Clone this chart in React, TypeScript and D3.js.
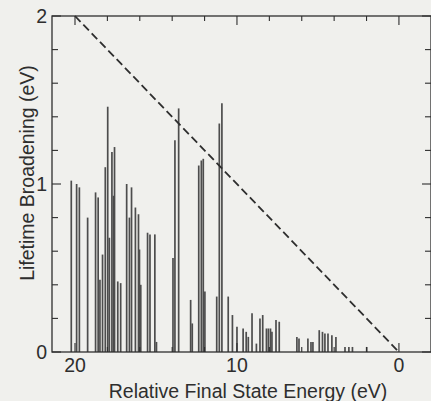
import { useEffect, useRef } from 'react';
import * as d3 from 'd3';

// stick positions (eV) and their lifetime broadening (eV)
const energies = [
  20.23, 19.9, 19.73, 19.22, 18.73, 18.57, 18.46, 18.3, 18.13, 17.98, 17.88, 17.72, 17.62, 17.56,
  17.36, 17.18, 16.81, 16.64, 16.51, 16.27, 16.08, 16.02, 15.94, 15.52, 15.37, 15.07, 14.97,
  13.95, 13.83, 13.6, 12.86, 12.76, 12.36, 12.2, 12.08, 11.98, 11.25, 11.09, 10.93, 10.54, 10.28,
  10.0, 9.62, 9.43, 9.3, 9.07, 8.8, 8.58, 8.41, 8.18, 8.06, 7.93, 7.84, 7.59, 7.39, 6.3, 6.17,
  5.62, 5.43, 5.31, 4.92, 4.72, 4.57, 4.38, 4.14, 3.89, 3.33, 3.09, 2.87, 1.99,
];
const broadening = [
  1.02, 1.0, 0.98, 0.8, 0.95, 0.92, 0.43, 0.58, 1.1, 1.46, 0.68, 1.19, 0.93, 1.22,
  0.42, 0.41, 1.0, 0.8, 0.98, 0.86, 0.82, 0.61, 0.4, 0.71, 0.7, 0.7, 0.06,
  0.56, 1.26, 1.45, 0.31, 0.17, 1.11, 1.14, 1.15, 0.36, 0.33, 1.36, 1.48, 0.33, 0.22,
  0.15, 0.14, 0.12, 0.09, 0.23, 0.05, 0.2, 0.22, 0.14, 0.14, 0.14, 0.12, 0.19, 0.18, 0.09, 0.08,
  0.08, 0.06, 0.06, 0.13, 0.12, 0.11, 0.11, 0.1, 0.09, 0.03, 0.03, 0.03, 0.03,
];
// dashed guide: from (20 eV, 2 eV) down to (0, 0)
const guideX = [20, 0];
const guideY = [2, 0];
const xTickLabels = [20, 10, 0];
const yTickLabels = [0, 1, 2];

const W = 431;
const H = 401;

export default function App() {
  const svgRef = useRef<SVGSVGElement>(null);

  useEffect(() => {
    const svg = d3.select(svgRef.current);
    svg.selectAll('*').remove();

    const left = 52, right = 431, top = 16, bottom = 352;
    const x = d3.scaleLinear().domain([21.42, -1.98]).range([left, right]);
    const y = d3.scaleLinear().domain([0, 2]).range([bottom, top]);
    const ink = '#2e2e2e';
    const font = 'Liberation Sans, Arial, Helvetica, sans-serif';
    const fs = 19.5;

    svg.append('rect').attr('width', W).attr('height', H).attr('fill', '#f0f0ed');

    // sticks
    svg.append('g').selectAll('line').data(energies).join('line')
      .attr('x1', d => x(d)).attr('x2', d => x(d))
      .attr('y1', bottom)
      .attr('y2', (d, i) => y(broadening[i]))
      .attr('stroke', '#4d4d4d')
      .attr('stroke-width', 1.7);

    // dashed guide line
    svg.append('line')
      .attr('x1', x(guideX[0])).attr('y1', y(guideY[0]))
      .attr('x2', x(guideX[1])).attr('y2', y(guideY[1]))
      .attr('stroke', ink)
      .attr('stroke-width', 1.8)
      .attr('stroke-dasharray', '8,4');

    // frame
    svg.append('rect')
      .attr('x', left).attr('y', top)
      .attr('width', right - left).attr('height', bottom - top)
      .attr('fill', 'none').attr('stroke', ink).attr('stroke-width', 1.3);

    // ticks, all pointing inward
    const ticks = svg.append('g').attr('stroke', ink).attr('stroke-width', 1.1);
    d3.range(0, 21, 2).forEach(v => {
      const len = v % 10 === 0 ? 9 : 5;
      ticks.append('line').attr('x1', x(v)).attr('x2', x(v)).attr('y1', top).attr('y2', top + len);
      ticks.append('line').attr('x1', x(v)).attr('x2', x(v)).attr('y1', bottom).attr('y2', bottom - len);
    });
    d3.range(0, 11).map(d => d * 0.2).forEach(v => {
      const major = Math.abs(v - Math.round(v)) < 1e-6;
      const len = major ? 9 : 6;
      ticks.append('line').attr('x1', left).attr('x2', left + len).attr('y1', y(v)).attr('y2', y(v));
      ticks.append('line').attr('x1', right).attr('x2', right - len).attr('y1', y(v)).attr('y2', y(v));
    });

    // tick labels
    svg.append('g').selectAll('text').data(xTickLabels).join('text')
      .attr('x', d => x(d)).attr('y', 372)
      .attr('text-anchor', 'middle')
      .attr('font-family', font).attr('font-size', fs).attr('fill', ink)
      .text(d => d);
    svg.append('g').selectAll('text').data(yTickLabels).join('text')
      .attr('x', 47).attr('y', d => y(d) + 7)
      .attr('text-anchor', 'end')
      .attr('font-family', font).attr('font-size', fs).attr('fill', ink)
      .text(d => d);

    // axis titles
    svg.append('text')
      .attr('x', 248).attr('y', 398)
      .attr('text-anchor', 'middle')
      .attr('font-family', font).attr('font-size', fs).attr('fill', ink)
      .text('Relative Final State Energy (eV)');
    svg.append('text')
      .attr('transform', 'translate(34,173) rotate(-90)')
      .attr('text-anchor', 'middle')
      .attr('font-family', font).attr('font-size', fs).attr('fill', ink)
      .text('Lifetime Broadening (eV)');
  }, []);

  return (
    <svg ref={svgRef} width={W} height={H}
      style={{ position: 'absolute', left: 0, top: 0, display: 'block' }} />
  );
}
